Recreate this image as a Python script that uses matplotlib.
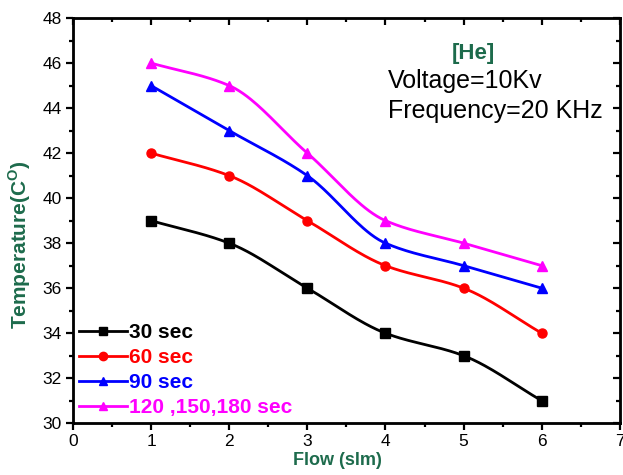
import numpy as np
import matplotlib
matplotlib.use("Agg")
import matplotlib.pyplot as plt

plt.rcParams["font.family"] = ["Liberation Sans", "DejaVu Sans"]

flow = [1, 2, 3, 4, 5, 6]
t30 = [39, 38, 36, 34, 33, 31]
t60 = [42, 41, 39, 37, 36, 34]
t90 = [45, 43, 41, 38, 37, 36]
t120 = [46, 45, 42, 39, 38, 37]

labels = ["30 sec", "60 sec", "90 sec", "120 ,150,180 sec"]
colors = ["black", "red", "blue", "magenta"]
markers = ["s", "o", "^", "^"]
green = "#1d6b4c"


# smooth curve through the points (monotone cubic, like Origin's spline look)
def pchip(x, y, n=200):
    x = np.asarray(x, float)
    y = np.asarray(y, float)
    h = np.diff(x)
    d = np.diff(y) / h
    m = np.zeros_like(y)
    for i in range(1, len(x) - 1):
        if d[i - 1] * d[i] > 0:
            w1 = 2 * h[i] + h[i - 1]
            w2 = h[i] + 2 * h[i - 1]
            m[i] = (w1 + w2) / (w1 / d[i - 1] + w2 / d[i])
    m[0] = d[0]
    m[-1] = d[-1]
    xs = np.linspace(x[0], x[-1], n)
    idx = np.clip(np.searchsorted(x, xs) - 1, 0, len(x) - 2)
    t = (xs - x[idx]) / h[idx]
    h00 = 2 * t**3 - 3 * t**2 + 1
    h10 = t**3 - 2 * t**2 + t
    h01 = -2 * t**3 + 3 * t**2
    h11 = t**3 - t**2
    ys = h00 * y[idx] + h10 * h[idx] * m[idx] + h01 * y[idx + 1] + h11 * h[idx] * m[idx + 1]
    return xs, ys


fig = plt.figure(figsize=(6.23, 4.75), dpi=100)
ax = fig.add_axes([0.117, 0.109, 0.878, 0.853])

for ys, lab, c, mk in zip([t30, t60, t90, t120], labels, colors, markers):
    sx, sy = pchip(flow, ys)
    ax.plot(sx, sy, color=c, lw=2)
    ax.plot(flow, ys, ls="none", marker=mk, color=c, ms=6.5)
    ax.plot([], [], color=c, lw=2, marker=mk, ms=6, label=lab)

ax.set_xlim(0, 7)
ax.set_ylim(30, 48)
ax.set_xticks(range(0, 8))
ax.set_yticks(range(30, 49, 2))
ax.set_xticks(np.arange(0.5, 7, 1), minor=True)
ax.set_yticks(np.arange(31, 48, 2), minor=True)
ax.tick_params(axis="both", which="major", direction="out", length=5, width=1.6, labelsize=12.5, pad=3)
ax.tick_params(axis="both", which="minor", direction="out", length=3, width=1.6)
for s in ax.spines.values():
    s.set_linewidth(2)

# ticks inward on top and right
ax2 = ax.twinx()
ax2.set_ylim(30, 48)
ax2.set_yticks(range(30, 49, 2))
ax2.set_yticks(np.arange(31, 48, 2), minor=True)
ax2.tick_params(axis="y", which="major", direction="in", length=5, width=1.6, labelright=False)
ax2.tick_params(axis="y", which="minor", direction="in", length=3, width=1.6)
ax3 = ax.twiny()
ax3.set_xlim(0, 7)
ax3.set_xticks(range(0, 8))
ax3.set_xticks(np.arange(0.5, 7, 1), minor=True)
ax3.tick_params(axis="x", which="major", direction="in", length=5, width=1.6, labeltop=False)
ax3.tick_params(axis="x", which="minor", direction="in", length=3, width=1.6)

ax.set_xlabel("Flow (slm)", color=green, fontweight="bold", fontsize=13, va="center")
ax.xaxis.set_label_coords(0.483, -0.093)
ax.set_ylabel("Temperature(C$^{\\mathregular{O}}$)", color=green, fontweight="bold", fontsize=15, va="center")
ax.yaxis.set_label_coords(-0.097, 0.44)

leg = ax.legend(loc="lower left", frameon=False, fontsize=15, handlelength=2.3,
                handletextpad=0.1, labelspacing=0.28, borderaxespad=0.0, borderpad=0.3)
for txt, c in zip(leg.get_texts(), colors):
    txt.set_color(c)
    txt.set_fontweight("bold")

ax.text(5.12, 46.2, "[He]", color=green, fontweight="bold", fontsize=16, ha="center", va="baseline")
ax.text(4.03, 44.9, "Voltage=10Kv", fontsize=18, va="baseline")
ax.text(4.03, 43.55, "Frequency=20 KHz", fontsize=18, va="baseline")

fig.savefig("out.png", dpi=100)
